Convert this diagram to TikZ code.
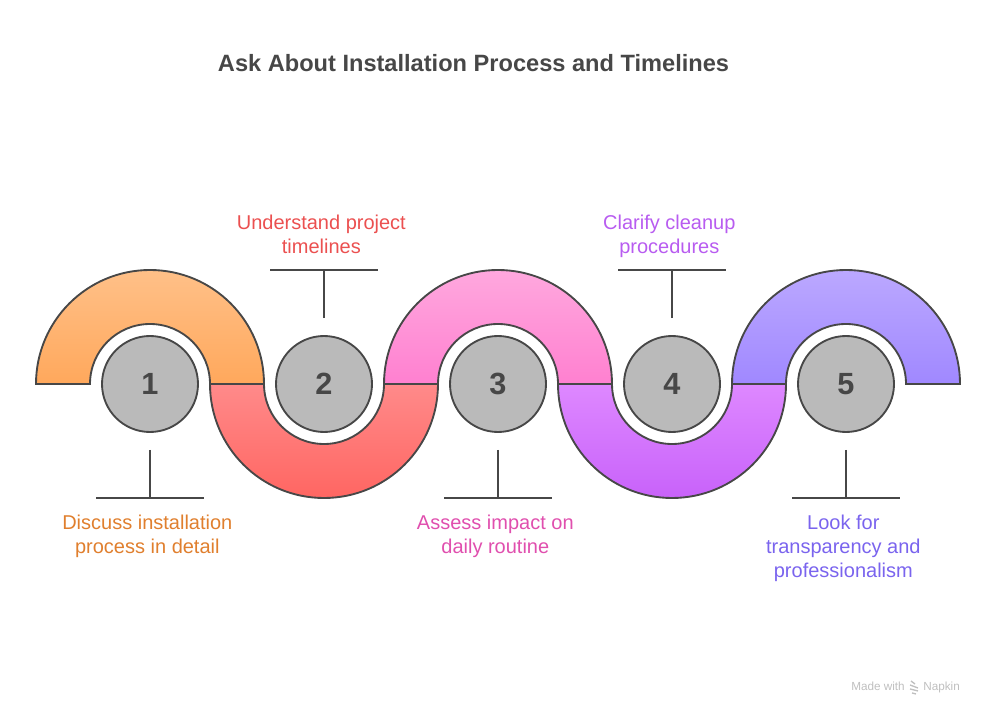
\documentclass[tikz,border=0pt]{standalone}
\usepackage{xcolor}
\usepackage{fontspec}
\setmainfont{Liberation Sans}
\usetikzlibrary{positioning}
\definecolor{Ink}{HTML}{474747}
\definecolor{DiscGray}{HTML}{BABABA}
\definecolor{OrangeText}{HTML}{E07F2E}
\definecolor{RedText}{HTML}{EB5050}
\definecolor{PinkText}{HTML}{E04FAE}
\definecolor{PurpleText}{HTML}{B85CF0}
\definecolor{VioletText}{HTML}{7A64EE}
\definecolor{OrangeTop}{HTML}{FFC088}
\definecolor{OrangeLow}{HTML}{FFA85C}
\definecolor{RedTop}{HTML}{FF8A8A}
\definecolor{RedLow}{HTML}{FF6662}
\definecolor{PinkTop}{HTML}{FFA8DE}
\definecolor{PinkLow}{HTML}{FF80D0}
\definecolor{PurpleTop}{HTML}{DE88FF}
\definecolor{PurpleLow}{HTML}{C862FA}
\definecolor{VioletTop}{HTML}{BBA8FF}
\definecolor{VioletLow}{HTML}{A088FF}

\begin{document}
\begin{tikzpicture}[
    x=0.75pt, y=0.75pt,
    band/.style={draw=Ink, line width=1.4pt},
    disc/.style={
      circle, draw=Ink, line width=1.4pt, fill=DiscGray,
      minimum size=72pt, inner sep=0pt,
      font=\fontsize{23}{26}\selectfont\bfseries, text=Ink,
      text height=16.5pt, text depth=0pt
    },
    lead/.style={draw=Ink, line width=1.4pt},
    caption/.style={
      align=center, font=\fontsize{15}{18}\selectfont
    },
    badge/.style={font=\fontsize{8.8}{10}\selectfont, text=black!25, inner sep=0pt}
  ]
    \useasboundingbox (0,0) rectangle (984,714);

    %% Title
    \node[font=\fontsize{17.7}{22}\selectfont\bfseries, text=Ink] (title) at (473.5,651) {Ask About Installation Process and Timelines};

    %% Bands
    \shade[band, top color=OrangeTop, bottom color=OrangeLow] (36,330) arc[start angle=180, end angle=0, radius=114] -- (210,330) arc[start angle=0, end angle=180, radius=60] -- cycle;
    \shade[band, top color=RedTop, bottom color=RedLow] (210,330) arc[start angle=180, end angle=360, radius=114] -- (384,330) arc[start angle=360, end angle=180, radius=60] -- cycle;
    \shade[band, top color=PinkTop, bottom color=PinkLow] (384,330) arc[start angle=180, end angle=0, radius=114] -- (558,330) arc[start angle=0, end angle=180, radius=60] -- cycle;
    \shade[band, top color=PurpleTop, bottom color=PurpleLow] (558,330) arc[start angle=180, end angle=360, radius=114] -- (732,330) arc[start angle=360, end angle=180, radius=60] -- cycle;
    \shade[band, top color=VioletTop, bottom color=VioletLow] (732,330) arc[start angle=180, end angle=0, radius=114] -- (906,330) arc[start angle=0, end angle=180, radius=60] -- cycle;

    %% Discs
    \node[disc] (one) at (150,330) {1};
    \node[disc] (two) at (324,330) {2};
    \node[disc] (three) at (498,330) {3};
    \node[disc] (four) at (672,330) {4};
    \node[disc] (five) at (846,330) {5};

    %% Lead lines
    \coordinate (oneBar) at (150,216);
    \coordinate (twoBar) at (324,444);
    \coordinate (threeBar) at (498,216);
    \coordinate (fourBar) at (672,444);
    \coordinate (fiveBar) at (846,216);
    \draw[lead] ([yshift=-12.75pt]one.south) -- (oneBar);
    \draw[lead] ([xshift=-40.5pt]oneBar) -- ([xshift=40.5pt]oneBar);
    \draw[lead] ([yshift=12.75pt]two.north) -- (twoBar);
    \draw[lead] ([xshift=-40.5pt]twoBar) -- ([xshift=40.5pt]twoBar);
    \draw[lead] ([yshift=-12.75pt]three.south) -- (threeBar);
    \draw[lead] ([xshift=-40.5pt]threeBar) -- ([xshift=40.5pt]threeBar);
    \draw[lead] ([yshift=12.75pt]four.north) -- (fourBar);
    \draw[lead] ([xshift=-40.5pt]fourBar) -- ([xshift=40.5pt]fourBar);
    \draw[lead] ([yshift=-12.75pt]five.south) -- (fiveBar);
    \draw[lead] ([xshift=-40.5pt]fiveBar) -- ([xshift=40.5pt]fiveBar);

    %% Captions
    \node[caption, text=OrangeText, below=9.3pt of oneBar, xshift=-2pt] (oneText) {Discuss installation\\process in detail};
    \node[caption, text=RedText, above=9pt of twoBar, xshift=-2pt] (twoText) {Understand project\\timelines};
    \node[caption, text=PinkText, below=9.3pt of threeBar, xshift=-2pt] (threeText) {Assess impact on\\daily routine};
    \node[caption, text=PurpleText, above=6pt of fourBar, xshift=-2pt] (fourText) {Clarify cleanup\\procedures};
    \node[caption, text=VioletText, below=9.3pt of fiveBar, xshift=-2pt] (fiveText) {Look for\\transparency and\\professionalism};

    %% Badge
    \node[badge, anchor=base east] (madeWith) at (905,24) {Made with};
    \node[badge, anchor=base west] (napkin) at (923,24) {Napkin};
    \draw[black!25, line width=1pt] (911,33) -- (915,30) (910,29) -- (918,26) (910,25) -- (918,23) (912,21) -- (916,20);
  \end{tikzpicture}
\end{document}
